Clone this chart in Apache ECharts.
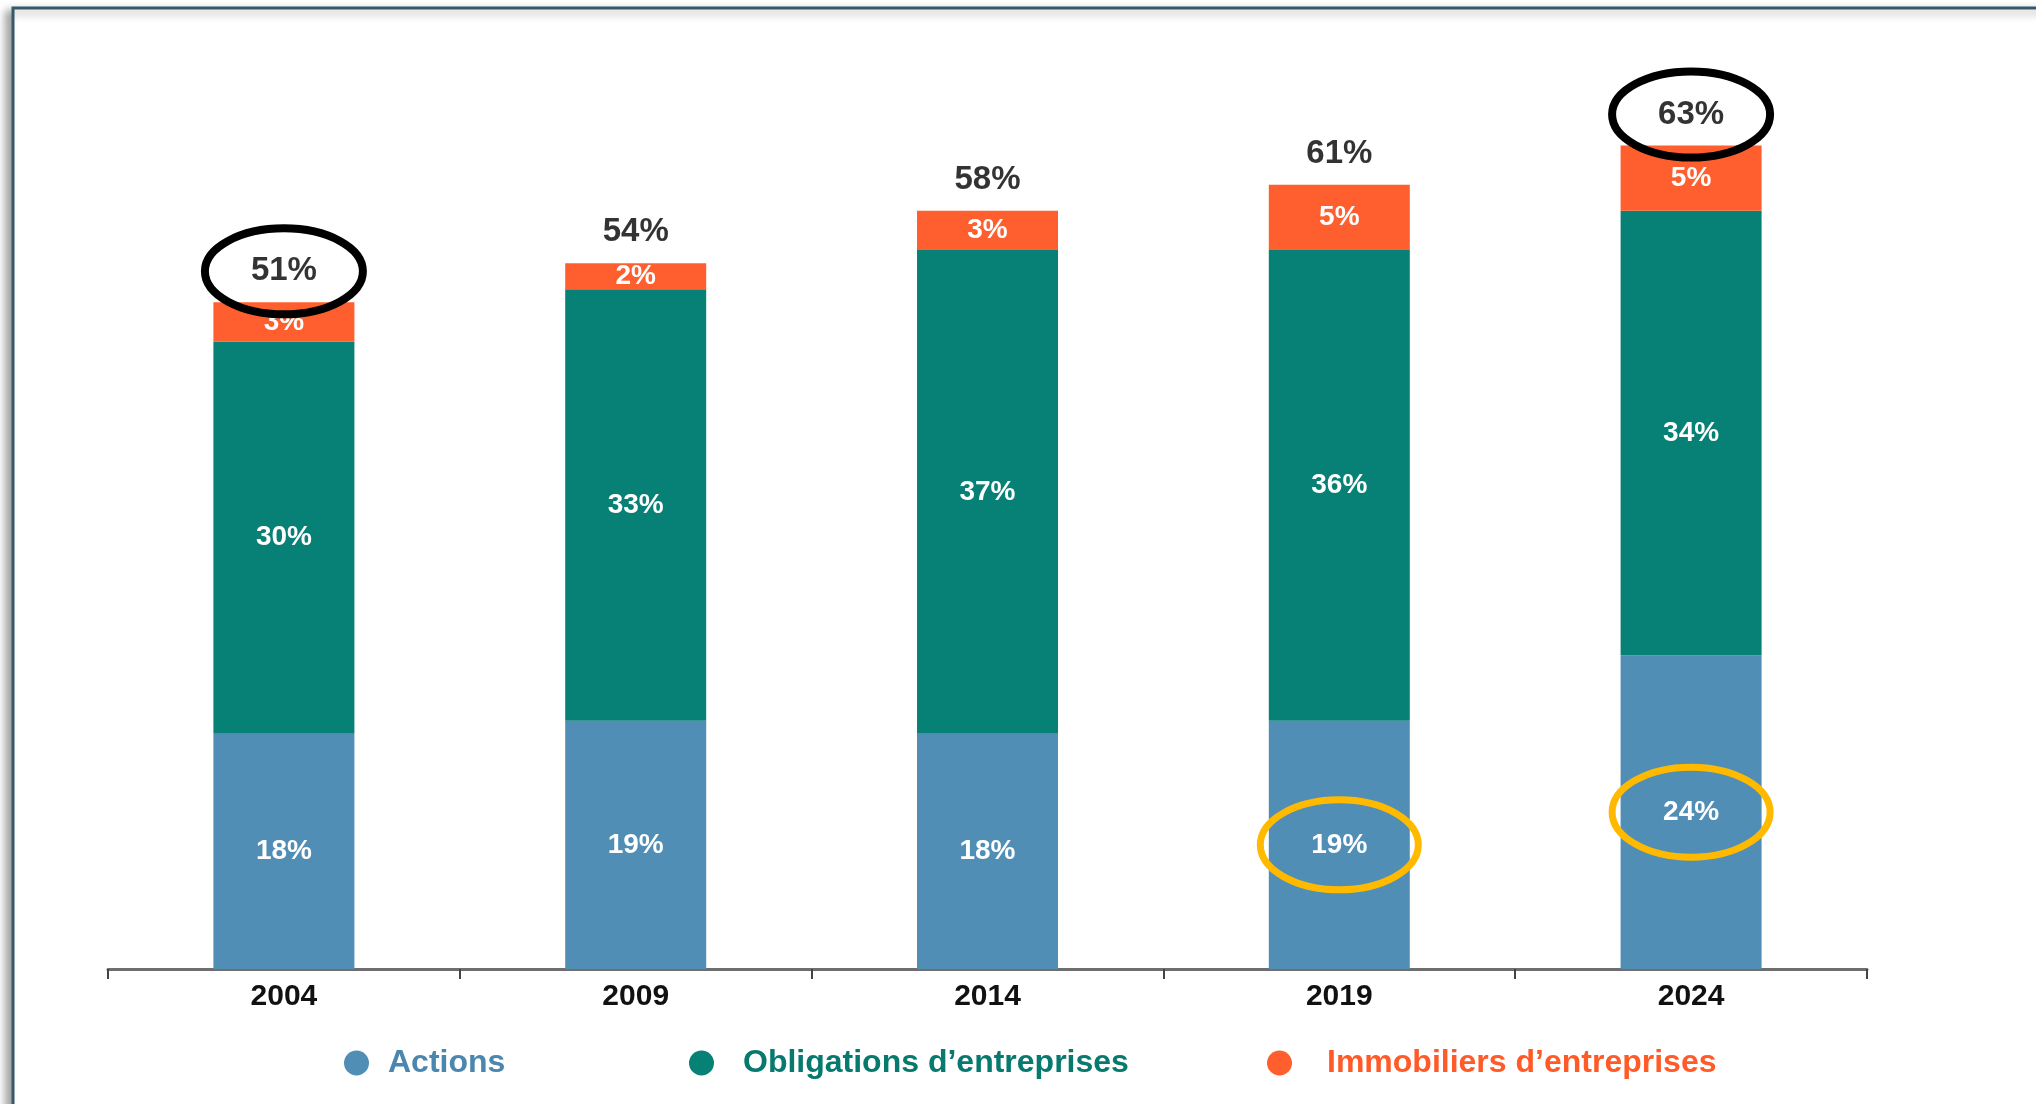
<!DOCTYPE html>
<html>
<head>
<meta charset="utf-8">
<script src="https://cdn.jsdelivr.net/npm/echarts@6/dist/echarts.min.js"></script>
<style>
  html, body { margin: 0; padding: 0; background: #ffffff; }
  #chart { width: 2036px; height: 1104px; }
</style>
</head>
<body>
<div id="chart"></div>
<script>
// Répartition des placements par année (en % du total)
const years = ['2004', '2009', '2014', '2019', '2024'];
const actions = [18, 19, 18, 19, 24];
const obligations = [30, 33, 37, 36, 34];
const immobiliers = [3, 2, 3, 5, 5];
const totals = [51, 54, 58, 61, 63];

// Années mises en avant
const circledTotals = ['2004', '2024'];
const circledActions = ['2019', '2024'];

const seriesNames = ['Actions', 'Obligations d’entreprises', 'Immobiliers d’entreprises'];
const barColors = ['#508EB5', '#078075', '#FF5F2E'];
const legendColors = ['#4A86AE', '#08796E', '#FF5A28'];

const FONT = '"Liberation Sans", Arial, Helvetica, sans-serif';

const stackTop = years.map((_, i) => actions[i] + obligations[i] + immobiliers[i]);

const chart = echarts.init(document.getElementById('chart'), null, { renderer: 'canvas' });

const insideLabel = {
  show: true,
  position: 'inside',
  color: '#ffffff',
  fontFamily: FONT,
  fontWeight: 'bold',
  fontSize: 28,
  formatter: p => p.value + '%'
};

function barSeries(idx, values) {
  return {
    name: seriesNames[idx],
    type: 'bar',
    stack: 'total',
    barWidth: 141,
    data: values,
    itemStyle: { color: barColors[idx] },
    label: insideLabel,
    emphasis: { disabled: true },
    silent: true
  };
}

function ellipseSeries(points, color, dy, rx, ry, width) {
  return {
    type: 'custom',
    silent: true,
    z: 10,
    data: points,
    renderItem: (params, api) => {
      const p = api.coord([api.value(0), api.value(1)]);
      return {
        type: 'ellipse',
        shape: { cx: p[0], cy: p[1] + dy, rx: rx, ry: ry },
        style: { fill: 'none', stroke: color, lineWidth: width }
      };
    }
  };
}

const legendLeft = [339, 684, 1262];
const legendPad = [14, 24, 30];

const option = {
  backgroundColor: '#ffffff',
  animation: false,
  graphic: [
    {
      type: 'rect',
      silent: true,
      z: -10,
      shape: { x: 13, y: 8, width: 2100, height: 1200 },
      style: {
        fill: '#ffffff',
        stroke: '#36586B',
        lineWidth: 3,
        shadowBlur: 8,
        shadowOffsetX: -6,
        shadowOffsetY: 4,
        shadowColor: 'rgba(0,0,0,0.35)'
      }
    }
  ],
  grid: { left: 108, right: 169, top: 54, bottom: 135, containLabel: false },
  legend: seriesNames.map((name, i) => ({
    data: [name],
    left: legendLeft[i],
    top: 1042,
    icon: 'circle',
    itemWidth: 25,
    itemHeight: 25,
    selectedMode: false,
    textStyle: {
      color: legendColors[i],
      fontFamily: FONT,
      fontWeight: 'bold',
      fontSize: 32,
      padding: [0, 0, 0, legendPad[i]]
    }
  })),
  xAxis: {
    type: 'category',
    data: years,
    axisLine: { lineStyle: { color: '#6e6e6e', width: 3 } },
    axisTick: { show: true, length: 10, lineStyle: { color: '#444444', width: 2 } },
    axisLabel: {
      color: '#111111',
      fontFamily: FONT,
      fontWeight: 'bold',
      fontSize: 30,
      margin: 13
    }
  },
  yAxis: {
    type: 'value',
    min: 0,
    max: 70,
    show: false,
    splitLine: { show: false }
  },
  series: [
    barSeries(0, actions),
    barSeries(1, obligations),
    barSeries(2, immobiliers),
    {
      name: 'Total',
      type: 'scatter',
      symbolSize: 1,
      itemStyle: { color: 'rgba(0,0,0,0)' },
      silent: true,
      data: stackTop,
      label: {
        show: true,
        position: 'top',
        distance: 14,
        color: '#000000',
        fontFamily: FONT,
        fontWeight: 'bold',
        fontSize: 33,
        formatter: p => totals[p.dataIndex] + '%'
      }
    },
    ellipseSeries(
      circledTotals.map(y => { const i = years.indexOf(y); return [i, stackTop[i]]; }),
      '#000000', -31, 79, 43, 8
    ),
    ellipseSeries(
      circledActions.map(y => { const i = years.indexOf(y); return [i, actions[i] / 2]; }),
      '#FFBA00', 0, 79, 45, 7
    )
  ]
};

chart.setOption(option);
</script>
</body>
</html>
